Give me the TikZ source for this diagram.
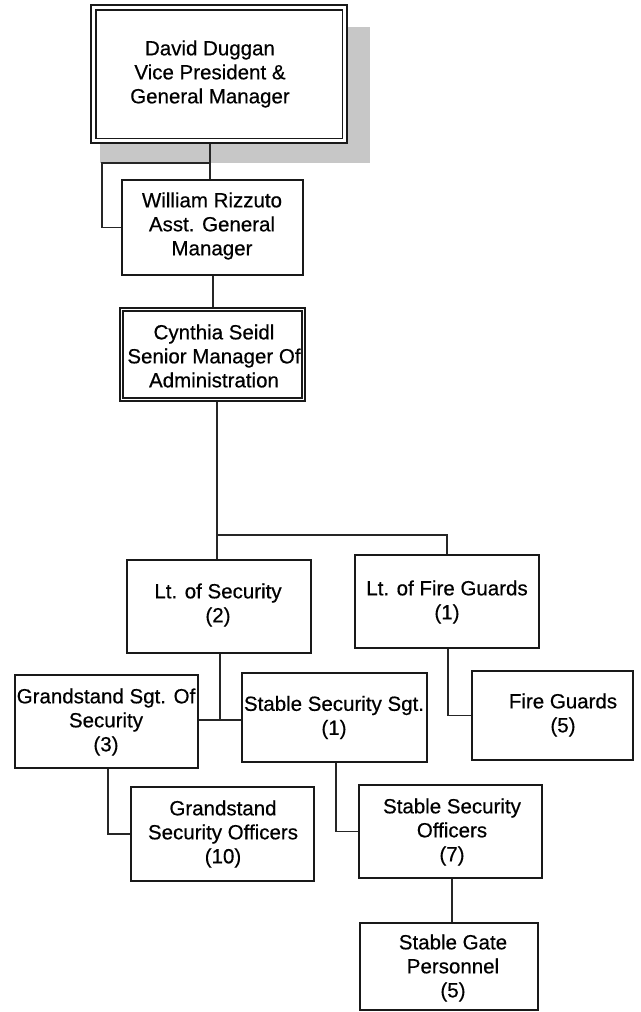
\documentclass[tikz,border=0pt]{standalone}
\usepackage{fontspec}
\setmainfont{Liberation Sans}
\newfontfamily\medfont[FakeBold=0.5]{Liberation Sans}
\begin{document}
\begin{tikzpicture}[x=1pt,y=-1pt,
  box/.style={draw=black!90,line width=1.8pt,fill=white,inner sep=0pt,rectangle},
  txt/.style={align=center,inner sep=0pt,font=\medfont\fontsize{20.5}{24}\selectfont},
  conn/.style={draw=black!85,line width=1.3pt}]
\useasboundingbox (0,0) rectangle (640,1012);
% shadow
\fill[black!22] (100,27) rectangle (370,163);
% boxes
\node[box,line width=2.5pt,minimum width=256,minimum height=138] (dd) at (219,74) {};
\draw[black!90,line width=1.5pt] ([shift={(6,6)}]dd.north west) rectangle ([shift={(-6,-6)}]dd.south east);
\node[txt] (ddt) at (210,74) {David Duggan\\Vice President \&\\General Manager};

\node[box,minimum width=181,minimum height=95] (wr) at (212.5,227.5) {};
\node[txt] (wrt) at (212,226) {William Rizzuto\\Asst. General\\Manager};

\node[box,line width=2pt,minimum width=185,minimum height=93] (cs) at (212.5,354.5) {};
\draw[black!90,line width=1.4pt] ([shift={(4,4)}]cs.north west) rectangle ([shift={(-4,-4)}]cs.south east);
\node[txt] (cst) at (214,356) {Cynthia Seidl\\Senior Manager Of\\Administration};

\node[box,minimum width=184,minimum height=93] (lts) at (219,606.5) {};
\node[txt] (ltst) at (218,605) {Lt. of Security\\(2)};

\node[box,minimum width=184,minimum height=93] (ltf) at (447,601.5) {};
\node[txt] (ltft) at (447,602) {Lt. of Fire Guards\\(1)};

\node[box,minimum width=183,minimum height=93] (gss) at (106.5,721.5) {};
\node[txt] (gsst) at (106,722) {Grandstand Sgt. Of\\Security\\(3)};

\node[box,minimum width=185,minimum height=89] (sss) at (334.5,717.5) {};
\node[txt] (ssst) at (334,717.5) {Stable Security Sgt.\\(1)};

\node[box,minimum width=161,minimum height=89] (fg) at (552.5,715.5) {};
\node[txt] (fgt) at (563,715) {Fire Guards\\(5)};

\node[box,minimum width=183,minimum height=94] (gso) at (222.5,834) {};
\node[txt] (gsot) at (223,834) {Grandstand\\Security Officers\\(10)};

\node[box,minimum width=183,minimum height=93] (sso) at (450.5,831.5) {};
\node[txt] (ssot) at (452,832) {Stable Security\\Officers\\(7)};

\node[box,minimum width=178,minimum height=87] (sgp) at (449,966.5) {};
\node[txt] (sgpt) at (453,968) {Stable Gate\\Personnel\\(5)};

% connectors
\coordinate (j0) at (210,163);
\coordinate (j1) at (102,163);
\draw[conn] (dd.south -| j0) -- (wr.north -| j0);
\draw[conn] (j0) -- (j1) |- (wr.west);
\draw[conn] (wr.south -| 213,0) -- (cs.north -| 213,0);
\coordinate (j3) at (217,535);
\coordinate (j3r) at (447,535);
\draw[conn] (cs.south -| j3) -- (lts.north -| j3);
\draw[conn] (j3) -- (j3r) -- (ltf.north -| j3r);
\coordinate (j4) at (220,720);
\draw[conn] (lts.south -| j4) -- (j4);
\draw[conn] (gss.east |- j4) -- (sss.west |- j4);
\draw[conn] (ltf.south -| 448,0) |- (fg.west);
\draw[conn] (gss.south -| 108,0) |- (gso.west);
\draw[conn] (sss.south -| 336,0) |- (sso.west);
\draw[conn] (sso.south -| 452,0) -- (sgp.north -| 452,0);
\end{tikzpicture}
\end{document}
